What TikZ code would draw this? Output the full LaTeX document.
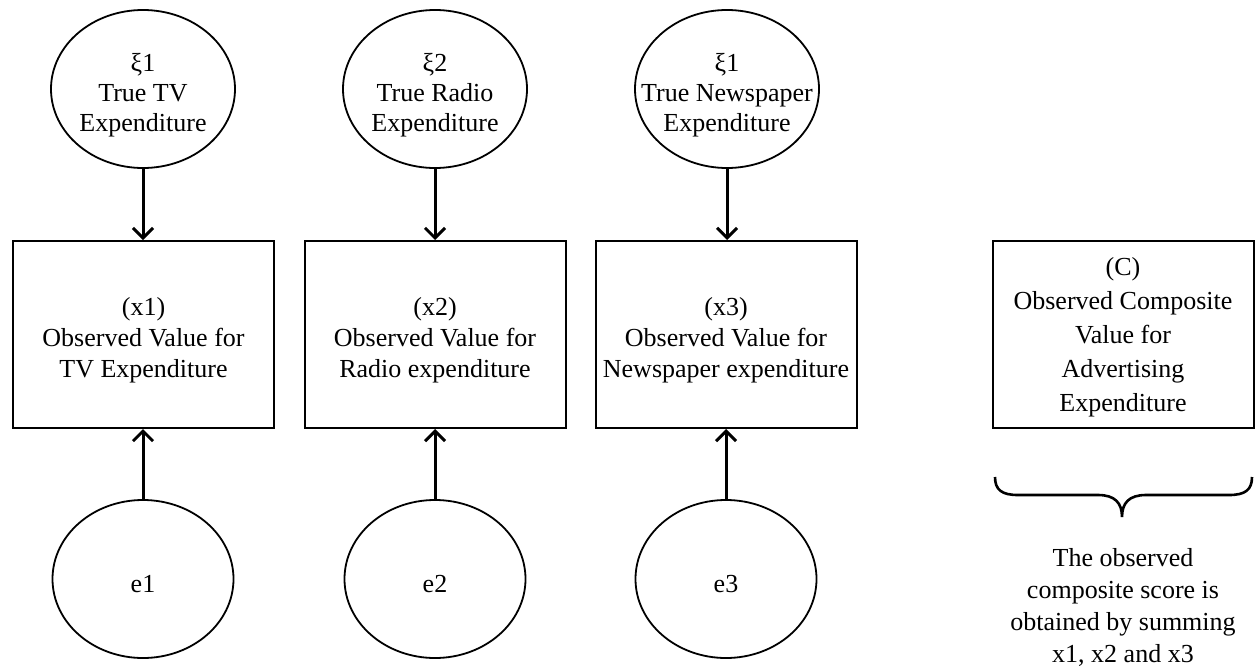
\documentclass[tikz,border=0pt]{standalone}
\usepackage{fontspec}
\setmainfont{Liberation Serif}
\usetikzlibrary{shapes.geometric,arrows.meta}
\begin{document}
\begin{tikzpicture}[x=1pt,y=-1pt,
  every node/.style={font=\fontsize{26}{31}\selectfont},
  lat/.style={draw, ellipse, line width=1.8pt, inner sep=0pt, minimum width=184pt, minimum height=158pt},
  err/.style={draw, ellipse, line width=1.8pt, inner sep=0pt, minimum width=181pt, minimum height=158pt},
  obs/.style={draw, rectangle, line width=2pt, inner sep=0pt, minimum width=261pt, minimum height=187pt},
  lbl/.style={align=center, inner sep=0pt, yshift=-6pt, font=\fontsize{26}{30}\selectfont},
  blbl/.style={align=center, inner sep=0pt, yshift=-6pt, font=\fontsize{26}{31}\selectfont},
  clbl/.style={align=center, inner sep=0pt, yshift=-3pt, font=\fontsize{26}{34}\selectfont},
  elbl/.style={inner sep=0pt, yshift=-5pt},
  arr/.style={line width=3pt, -{Straight Barb[length=10pt,width=20pt]}},
  plain/.style={align=center, inner sep=0pt, font=\fontsize{26}{32}\selectfont}]
\useasboundingbox (0,0) rectangle (1255,669);
% top latent variables
\node[lat, label={[lbl, name=t1l]center:{ξ1\\True TV\\Expenditure}}] (t1) at (143,89) {};
\node[lat, label={[lbl, name=t2l]center:{ξ2\\True Radio\\Expenditure}}] (t2) at (435,89) {};
\node[lat, label={[lbl, name=t3l]center:{ξ1\\True Newspaper\\Expenditure}}] (t3) at (727,89) {};
% observed boxes
\node[obs, label={[blbl, name=b1l]center:{(x1)\\Observed Value for\\TV Expenditure}}] (b1) at (143.5,334.5) {};
\node[obs, label={[blbl, name=b2l]center:{(x2)\\Observed Value for\\Radio expenditure}}] (b2) at (435,334.5) {};
\node[obs, label={[blbl, name=b3l]center:{(x3)\\Observed Value for\\Newspaper expenditure}}] (b3) at (726,334.5) {};
\node[obs, label={[clbl, name=bcl]center:{(C)\\Observed Composite\\Value for\\Advertising\\Expenditure}}] (bc) at (1123,334.5) {};
% error terms
\node[err, label={[elbl, name=e1l]center:e1}] (e1) at (143,579) {};
\node[err, label={[elbl, name=e2l]center:e2}] (e2) at (435,579) {};
\node[err, label={[elbl, name=e3l]center:e3}] (e3) at (726,579) {};
% arrows
\draw[arr] (t1.south) -- (t1.south |- b1.north);
\draw[arr] (t2.south) -- (t2.south |- b2.north);
\draw[arr] (t3.south) -- (t3.south |- b3.north);
\draw[arr] (e1.north) -- (e1.north |- b1.south);
\draw[arr] (e2.north) -- (e2.north |- b2.south);
\draw[arr] (e3.north) -- (e3.north |- b3.south);
% brace
\coordinate (brl) at (995,477);
\coordinate (brr) at (1252,477);
\coordinate (brt) at (1122,517);
\draw[line width=2.6pt] (brl) .. controls (995,490) and (1002,495) .. (1018,495)
  -- (1098,495) .. controls (1115,495) and (1122,503) .. (brt)
  .. controls (1122,503) and (1129,495) .. (1146,495)
  -- (1229,495) .. controls (1245,495) and (1252,490) .. (brr);
\node[plain] (note) at (1123,607) {The observed\\composite score is\\obtained by summing\\x1, x2 and x3};
\end{tikzpicture}
\end{document}
